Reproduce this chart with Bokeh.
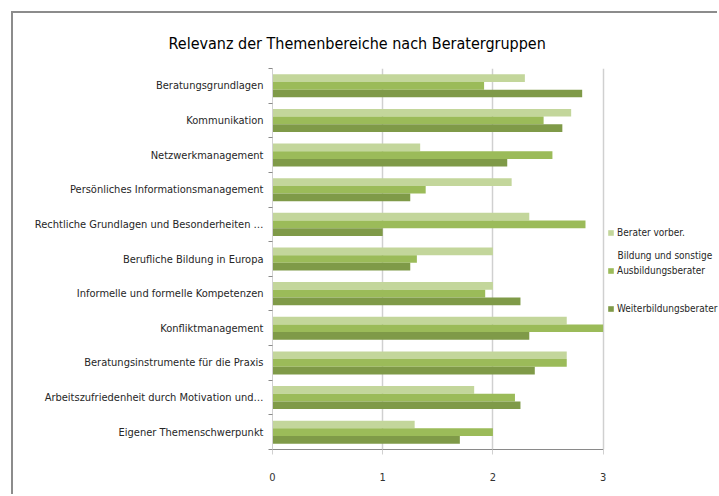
from bokeh.plotting import figure
from bokeh.models import (Range1d, LinearAxis, FixedTicker,
                          Legend, LegendItem, Label, ColumnDataSource)
from bokeh.transform import dodge
from bokeh.embed import file_html
from bokeh.resources import INLINE

title = "Relevanz der Themenbereiche nach Beratergruppen"
categories = [
    "Beratungsgrundlagen",
    "Kommunikation",
    "Netzwerkmanagement",
    "Persönliches Informationsmanagement",
    "Rechtliche Grundlagen und Besonderheiten …",
    "Berufliche Bildung in Europa",
    "Informelle und formelle Kompetenzen",
    "Konfliktmanagement",
    "Beratungsinstrumente für die Praxis",
    "Arbeitszufriedenheit durch Motivation und…",
    "Eigener Themenschwerpunkt",
]
series_names = ["Berater vorber.", "Ausbildungsberater", "Weiterbildungsberater"]
legend_extra_line = "Bildung und sonstige"
berater_vorber = [2.29, 2.71, 1.34, 2.17, 2.33, 2.00, 2.00, 2.67, 2.67, 1.83, 1.29]
ausbildungsberater = [1.92, 2.46, 2.54, 1.39, 2.84, 1.31, 1.93, 3.00, 2.67, 2.20, 2.00]
weiterbildungsberater = [2.81, 2.63, 2.13, 1.25, 1.00, 1.25, 2.25, 2.33, 2.38, 2.25, 1.70]
x_ticks = [0, 1, 2, 3]

colors = ["#C3D69B", "#9BBB59", "#7F9A48"]
FONT = "'DejaVu Sans Condensed', 'DejaVu Sans', sans-serif"

n = len(categories)
ypos = [n - 0.5 - i for i in range(n)]  # category band centres, first category on top

src = ColumnDataSource(dict(y=ypos, cat=categories, a=berater_vorber,
                            b=ausbildungsberater, c=weiterbildungsberater))

p = figure(width=706, height=483, output_backend="svg", toolbar_location=None,
           y_range=Range1d(0, n), x_range=Range1d(0, 4.056), y_axis_location=None,
           min_border_left=259, min_border_right=0, min_border_top=55, min_border_bottom=47)
p.margin = (11, 0, 0, 11)
p.styles = {"border-top": "2px solid #8c8c8c", "border-left": "2px solid #8c8c8c"}
p.outline_line_color = None
p.background_fill_color = "white"
p.border_fill_color = "white"

p.title.text = title
p.title.text_font = FONT
p.title.text_font_size = "16px"
p.title.text_font_style = "normal"
p.title.text_color = "#000000"
p.title.align = "left"
p.title.offset = -104
p.title.standoff = 32

bh = 0.222
r1 = p.hbar(y=dodge("y", bh), right="a", left=0, height=bh, source=src,
            fill_color=colors[0], line_color=None)
r2 = p.hbar(y=dodge("y", 0), right="b", left=0, height=bh, source=src,
            fill_color=colors[1], line_color=None)
r3 = p.hbar(y=dodge("y", -bh), right="c", left=0, height=bh, source=src,
            fill_color=colors[2], line_color=None)

# x axis
xa = p.xaxis[0]
xa.ticker = FixedTicker(ticks=x_ticks)
xa.bounds = (x_ticks[0], x_ticks[-1])
xa.major_label_text_font = FONT
xa.major_label_text_font_size = "11px"
xa.major_label_text_color = "#333333"
xa.major_label_standoff = 18
xa.major_tick_out = 5
xa.major_tick_in = 0
xa.minor_tick_out = 0
xa.minor_tick_in = 0
xa.axis_line_color = "#8a8a8a"
xa.major_tick_line_color = "#d0d0d0"

p.xgrid.grid_line_color = "#d0d0d0"
p.xgrid.grid_line_width = 1.5
p.xgrid.ticker = FixedTicker(ticks=x_ticks[1:])
p.ygrid.grid_line_color = None

# boundary ticks axis (closest to frame)
bounds = list(range(n + 1))
ta = LinearAxis(ticker=FixedTicker(ticks=bounds),
                major_label_overrides={i: "" for i in bounds},
                major_label_text_font_size="1px", major_label_standoff=0,
                axis_line_color="#d0d0d0", major_tick_out=4, major_tick_in=0,
                minor_tick_out=0, minor_tick_in=0, major_tick_line_color="#8a8a8a")
p.add_layout(ta, "left")
ca = LinearAxis(ticker=FixedTicker(ticks=ypos),
                major_label_overrides={y: c for y, c in zip(ypos, categories)},
                axis_line_color=None, major_tick_line_color=None, major_tick_out=0,
                major_tick_in=0, minor_tick_out=0, minor_tick_in=0, major_label_standoff=5,
                major_label_text_font=FONT, major_label_text_font_size="11px",
                major_label_text_color="#262626")
p.add_layout(ca, "left")

legend = Legend(items=[LegendItem(label=series_names[0], renderers=[r1]),
                       LegendItem(label=series_names[1], renderers=[r2]),
                       LegendItem(label=series_names[2], renderers=[r3])],
                location=(335, 131), orientation="vertical",
                label_text_font=FONT, label_text_font_size="10px", label_text_color="#262626",
                glyph_width=7, glyph_height=7, label_standoff=3, label_height=20,
                spacing=18, padding=0, margin=0, border_line_color=None,
                background_fill_alpha=0)
p.add_layout(legend)

p.add_layout(Label(x=3.131, y=5.60, text=legend_extra_line,
                   text_font=FONT, text_font_size="10px", text_color="#262626",
                   text_baseline="middle", text_align="left"))

open("out.html", "w").write(file_html(p, INLINE))
